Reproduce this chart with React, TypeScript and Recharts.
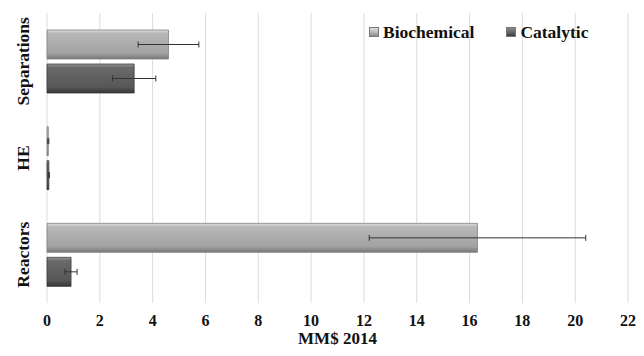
import React from 'react';
import { BarChart, Bar, XAxis, YAxis, CartesianGrid, ErrorBar } from 'recharts';

const categories = ['Separations', 'HE', 'Reactors'];
const biochemical = [4.6, 0.05, 16.3];
const biochemicalErr = [1.15, 0.02, 4.1];
const catalytic = [3.3, 0.07, 0.91];
const catalyticErr = [0.82, 0.02, 0.23];
const xTicks = [0, 2, 4, 6, 8, 10, 12, 14, 16, 18, 20, 22];

const data = categories.map((name, i) => ({
  name,
  Biochemical: biochemical[i],
  bioErr: biochemicalErr[i],
  Catalytic: catalytic[i],
  catErr: catalyticErr[i],
}));

const FONT = '"Liberation Serif", "Times New Roman", serif';

const CategoryTick = ({ y, payload }: any) => (
  <text
    x={23}
    y={y}
    transform={`rotate(-90, 23, ${y})`}
    textAnchor="middle"
    dominantBaseline="central"
    fontFamily={FONT}
    fontWeight="bold"
    fontSize={17.5}
    fill="#111"
  >
    {payload.value}
  </text>
);

const LegendItem = ({ label, grad }: { label: string; grad: string }) => (
  <div style={{ display: 'flex', alignItems: 'center', marginRight: 32 }}>
    <div
      style={{
        width: 10,
        height: 10,
        background: grad,
        border: '1px solid #777',
        boxSizing: 'border-box',
        marginRight: 4,
      }}
    />
    <span>{label}</span>
  </div>
);

const App = () => {
  return (
    <div style={{ position: 'absolute', left: 0, top: 0, width: 644, height: 356, background: '#fff' }}>
      <BarChart
        width={644}
        height={356}
        data={data}
        layout="vertical"
        margin={{ top: 13, right: 16, left: 0, bottom: 0 }}
        barSize={29}
        barGap={5}
      >
        <defs>
          <linearGradient id="bioGrad" x1="0" y1="0" x2="0" y2="1">
            <stop offset="0%" stopColor="#dedede" />
            <stop offset="12%" stopColor="#b8b8b8" />
            <stop offset="80%" stopColor="#a2a2a2" />
            <stop offset="100%" stopColor="#777" />
          </linearGradient>
          <linearGradient id="catGrad" x1="0" y1="0" x2="0" y2="1">
            <stop offset="0%" stopColor="#9a9a9a" />
            <stop offset="12%" stopColor="#6a6a6a" />
            <stop offset="80%" stopColor="#575757" />
            <stop offset="100%" stopColor="#363636" />
          </linearGradient>
        </defs>
        <CartesianGrid horizontal={false} stroke="#dcdcdc" />
        <XAxis
          type="number"
          domain={[0, 22]}
          ticks={xTicks}
          axisLine={false}
          tickLine={false}
          tickMargin={6}
          height={53}
          tick={{ fontFamily: FONT, fontWeight: 'bold', fontSize: 16, fill: '#111' }}
          label={{
            value: 'MM$ 2014',
            position: 'insideBottom',
            offset: 12,
            style: { fontFamily: FONT, fontWeight: 'bold', fontSize: 17, fill: '#111' },
          }}
        />
        <YAxis
          type="category"
          dataKey="name"
          width={47}
          axisLine={false}
          tickLine={false}
          tick={<CategoryTick />}
        />
        <Bar dataKey="Biochemical" fill="url(#bioGrad)" stroke="#808080" strokeWidth={0.8} isAnimationActive={false}>
          <ErrorBar dataKey="bioErr" direction="x" width={3} stroke="#333" strokeWidth={1} />
        </Bar>
        <Bar dataKey="Catalytic" fill="url(#catGrad)" stroke="#3a3a3a" strokeWidth={0.8} isAnimationActive={false}>
          <ErrorBar dataKey="catErr" direction="x" width={3} stroke="#333" strokeWidth={1} />
        </Bar>
      </BarChart>
      <div
        style={{
          position: 'absolute',
          left: 369,
          top: 21,
          display: 'flex',
          fontFamily: FONT,
          fontWeight: 'bold',
          fontSize: 17.5,
          color: '#111',
          lineHeight: '22px',
        }}
      >
        <LegendItem label="Biochemical" grad="linear-gradient(#e0e0e0, #a9a9a9 70%, #888)" />
        <LegendItem label="Catalytic" grad="linear-gradient(#8a8a8a, #575757 70%, #3a3a3a)" />
      </div>
    </div>
  );
};

export default App;
